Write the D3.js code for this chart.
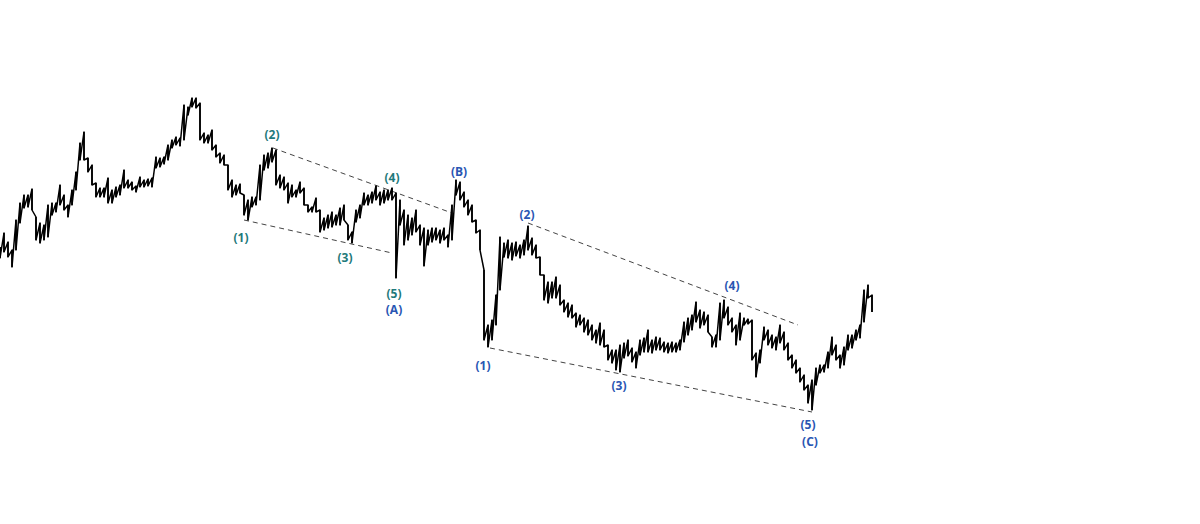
<!DOCTYPE html>
<html>
<head>
<meta charset="utf-8">
<script src="https://cdn.jsdelivr.net/npm/d3@7/dist/d3.min.js"></script>
<style>
  html, body { margin: 0; padding: 0; background: #ffffff; }
  svg { display: block; }
</style>
</head>
<body>
<svg id="chart" width="1200" height="524"></svg>
<script>
// Bar highs (price units), one per period
const highs = [
  253,267,258,250,280,297,305,305,311,283,277,275,295,297,297,315,305,295,310,328,
  357,368,342,335,317,312,312,322,310,313,315,330,320,318,314,323,320,321,322,343,
  342,343,355,360,363,362,395,393,402,402,397,367,365,370,355,347,345,335,320,315,
  316,305,300,303,303,335,345,347,352,350,325,323,317,315,310,318,312,295,293,302,
  290,282,285,288,285,292,295,275,268,290,295,307,305,308,314,308,310,310,312,307,
  300,290,285,282,290,275,272,270,272,272,270,272,265,295,320,318,308,300,295,280,
  270,230,175,180,205,263,257,260,257,258,255,260,274,262,255,243,225,218,218,223,
  215,200,197,195,187,185,182,180,175,170,177,170,155,150,150,155,157,160,152,148,
  160,162,170,160,163,162,158,157,158,157,160,178,182,185,198,190,188,185,163,165,
  197,200,193,182,175,187,182,181,180,147,150,173,170,165,163,175,168,157,145,140,
  132,125,115,120,132,135,135,148,163,155,145,153,165,165,170,175,210,215,205
];
// Bar lows (price units), one per period
const lows = [
  242,248,243,233,250,277,292,293,290,260,257,260,263,285,288,295,290,283,295,310,
  340,340,328,315,303,303,303,297,297,303,305,312,312,310,308,313,313,314,313,332,
  333,336,340,352,355,354,360,385,393,392,360,357,357,350,343,337,335,310,303,305,
  307,285,280,293,295,300,330,332,338,315,312,310,297,303,303,307,295,288,288,288,
  268,270,272,273,275,275,280,260,257,278,282,295,295,297,300,295,297,300,300,222,
  275,255,260,265,268,255,234,255,258,260,257,260,253,260,305,300,293,285,278,267,
  250,160,153,160,175,210,243,242,240,244,242,245,250,245,242,225,200,197,202,202,
  195,188,183,182,173,175,168,165,160,157,155,153,140,137,130,128,142,144,138,132,
  145,148,148,147,150,150,148,147,148,148,150,158,165,170,178,172,175,168,153,153,
  160,182,175,168,155,160,175,176,140,123,137,160,155,152,150,157,150,140,132,127,
  118,110,97,90,115,127,128,132,145,140,132,135,150,152,160,162,178,202,188
];

// Elliott-wave channel lines: [startIndex, startPrice, endIndex, endPrice]
const channelLines = [
  [68.25, 352, 113, 287],   // minor (2)-(4) line
  [61, 280, 98, 247],       // minor (1)-(3) line
  [132, 277, 199.5, 175],   // (2)-(4) line
  [122.5, 152, 203, 88]     // (1)-(3)-(5) line
];

// Wave labels: [index, price, text]
const minorLabels = [
  [60.25, 263, "(1)"], [68, 366, "(2)"], [86.25, 243, "(3)"],
  [98, 323, "(4)"], [98.5, 207, "(5)"]
];
const majorLabels = [
  [98.5, 191, "(A)"], [114.75, 329, "(B)"], [120.75, 135, "(1)"],
  [131.75, 286, "(2)"], [154.75, 115, "(3)"], [183, 215, "(4)"],
  [202, 76, "(5)"], [202.5, 59, "(C)"]
];

const svg = d3.select("#chart");
const x = d3.scaleLinear().domain([0, highs.length - 1]).range([0, 872]);
const y = d3.scaleLinear().domain([0, 500]).range([500, 0]);

// channel lines (behind price)
svg.append("g").selectAll("line").data(channelLines).join("line")
  .attr("x1", d => x(d[0])).attr("y1", d => y(d[1]))
  .attr("x2", d => x(d[2])).attr("y2", d => y(d[3]))
  .attr("stroke", "#444").attr("stroke-width", 1)
  .attr("stroke-dasharray", "5,4");

// price bars: vertical hi-lo bars plus a hi-lo zigzag
svg.append("g").selectAll("line").data(highs).join("line")
  .attr("x1", (d, i) => x(i)).attr("x2", (d, i) => x(i))
  .attr("y1", d => y(d)).attr("y2", (d, i) => y(lows[i]))
  .attr("stroke", "#000").attr("stroke-width", 1.6);

const pts = [];
highs.forEach((h, i) => { pts.push([i, h]); pts.push([i, lows[i]]); });
const line = d3.line().x(d => x(d[0])).y(d => y(d[1]));
svg.append("path").attr("d", line(pts))
  .attr("fill", "none").attr("stroke", "#000").attr("stroke-width", 1.5)
  .attr("stroke-linejoin", "round");

function drawLabels(data, color) {
  svg.append("g").selectAll("text").data(data).join("text")
    .attr("x", d => x(d[0])).attr("y", d => y(d[1]))
    .attr("text-anchor", "middle").attr("dominant-baseline", "central")
    .attr("font-family", "'Open Sans', sans-serif").attr("font-weight", 700)
    .attr("font-size", 12).attr("fill", color)
    .text(d => d[2]);
}
drawLabels(minorLabels, "#1f7a7b");
drawLabels(majorLabels, "#2a56b3");
</script>
</body>
</html>
